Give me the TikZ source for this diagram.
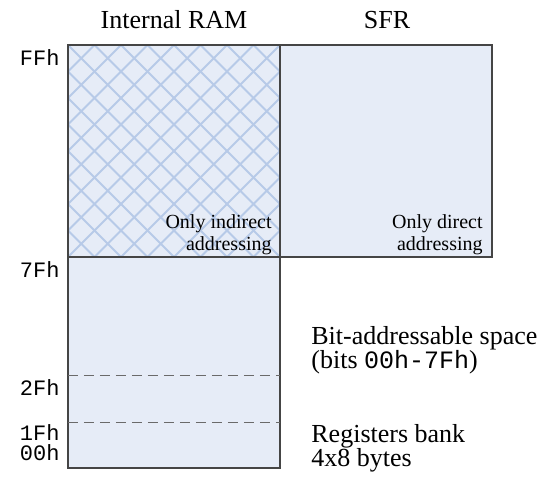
\documentclass[tikz,border=0pt]{standalone}
\usepackage{fontspec}
\setmainfont{Liberation Serif}
\setmonofont{Liberation Mono}
\definecolor{ramfill}{HTML}{E6ECF7}
\definecolor{hatch}{HTML}{B7CAE8}
\definecolor{edge}{HTML}{454545}
\newcommand*{\labstyle}{\fontsize{13}{12}\selectfont\lineskiplimit=-20pt}
\newcommand*{\notestyle}{\fontsize{10}{11}\selectfont\lineskiplimit=-20pt}
\newcommand*{\addrstyle}{\fontsize{11}{12}\selectfont\ttfamily}
\tikzset{
  membox/.style = {draw = edge, line width = 0.6pt},
  addr/.style = {anchor = base east, inner sep = 0pt, font = \addrstyle},
  head/.style = {anchor = base, inner sep = 0pt, font = \labstyle},
  note/.style = {anchor = base east, inner sep = 0pt, align = right, font = \notestyle},
  descr/.style = {anchor = base west, inner sep = 0pt, align = left, font = \labstyle},
  bankline/.style = {draw = edge!80, dash pattern = on 5pt off 3pt, line width = 0.5pt}
}

\begin{document}
\begin{tikzpicture}[x = 0.5pt, y = -0.5pt]
  \useasboundingbox (0,0) rectangle (543,479);
  % areas
  \fill[ramfill] (280,45) rectangle (492,257);
  \fill[ramfill] (68,45) rectangle (280,468);
  % hatching of the indirect-only part
  \begin{scope}
    \clip (68,45) rectangle (280,257);
    \foreach \k in {-8,...,8} {
      \draw[hatch, line width = 0.9pt] (68+26.5*\k,45) -- ++(212,212);
      \draw[hatch, line width = 0.9pt] (68+26.5*\k,257) -- ++(212,-212);
    }
  \end{scope}
  % outlines
  \draw[membox] (68,45) rectangle (280,468);
  \draw[membox] (280,45) rectangle (492,257);
  \draw[membox] (68,257) -- (280,257);
  \draw[bankline] (68,375) -- (280,375);
  \draw[bankline] (68,422) -- (280,422);

  \node[head] (ramhead) at (174,28) {Internal RAM};
  \node[head] (sfrhead) at (387,28) {SFR};

  \node[addr] (aFF) at (60,65) {FFh};
  \node[addr] (a7F) at (60,277) {7Fh};
  \node[addr] (a2F) at (60,395) {2Fh};
  \node[addr] (a1F) at (60,440) {1Fh};
  \node[addr] (a00) at (60,460) {00h};

  \node[note] (indnote) at (272,250) {Only indirect\\addressing};
  \node[note] (dirnote) at (483,250) {Only direct\\addressing};

  \node[descr] (bitdescr) at (311,368) {Bit-addressable space\\(bits {\addrstyle\fontsize{12.5}{12}\selectfont 00h-7Fh})};
  \node[descr] (regdescr) at (311,466) {Registers bank\\4x8 bytes};
\end{tikzpicture}
\end{document}
